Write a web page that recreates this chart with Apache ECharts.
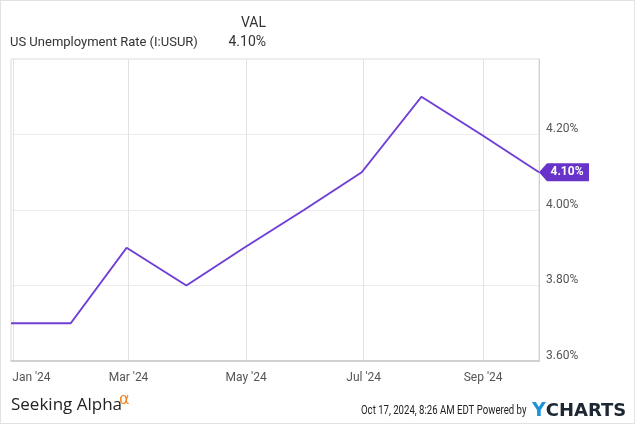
<!DOCTYPE html>
<html>
<head>
<meta charset="utf-8">
<script src="https://cdn.jsdelivr.net/npm/echarts@6/dist/echarts.min.js"></script>
<style>
html,body{margin:0;padding:0;background:#fff;}
#c{width:635px;height:424px;box-sizing:border-box;border:1px solid #e2e2e2;}
</style>
</head>
<body>
<div id="c"></div>
<script>
// Data
const dates = ['2023-12-31','2024-01-31','2024-02-29','2024-03-31','2024-04-30','2024-05-31','2024-06-30','2024-07-31','2024-08-31','2024-09-30'];
const rates = [3.7, 3.7, 3.9, 3.8, 3.9, 4.0, 4.1, 4.3, 4.2, 4.1];
const tickDates = ['2024-01-01','2024-03-01','2024-05-01','2024-07-01','2024-09-01'];
const tickLabels = ["Jan '24", "Mar '24", "May '24", "Jul '24", "Sep '24"];
const seriesName = 'US Unemployment Rate (I:USUR)';
const lastValue = '4.10%';

const toTs = s => { const p = s.split('-').map(Number); return Date.UTC(p[0], p[1]-1, p[2]); };
const tickTs = tickDates.map(toTs);
const labelMap = {};
tickTs.forEach((t, i) => { labelMap[t] = tickLabels[i]; });

const chart = echarts.init(document.getElementById('c'), null, {renderer: 'canvas'});
const font = 'Roboto, "Noto Sans", sans-serif';

chart.setOption({
  animation: false,
  grid: {left: 10, right: 95, top: 58, bottom: 62, show: true, borderColor: '#dcdcdc', borderWidth: 1},
  xAxis: {
    type: 'value',
    min: toTs(dates[0]),
    max: toTs(dates[dates.length - 1]),
    axisLine: {show: true, lineStyle: {color: '#c8c8c8', width: 1.5}},
    axisTick: {show: false, customValues: tickTs},
    splitLine: {show: true, lineStyle: {color: '#e2e2e2', width: 1}},
    axisLabel: {
      customValues: tickTs,
      color: '#555', fontSize: 12, fontFamily: font, margin: 11,
      formatter: function (v) {
        const lab = labelMap[v] || '';
        return v === tickTs[0] ? '{j|' + lab + '}' : lab;
      },
      rich: {j: {color: '#555', fontSize: 12, fontFamily: font, padding: [0, 0, 0, 37]}}
    }
  },
  yAxis: {
    type: 'value',
    position: 'right',
    min: 3.6, max: 4.4, interval: 0.2,
    axisLine: {show: true, lineStyle: {color: '#cfcfcf', width: 1}},
    axisTick: {show: false},
    splitLine: {show: true, lineStyle: {color: '#ececec', width: 1}},
    axisLabel: {
      showMaxLabel: false,
      color: '#555', fontSize: 12, fontFamily: font, margin: 7,
      verticalAlign: 'bottom', lineHeight: 11,
      formatter: v => v.toFixed(2) + '%'
    }
  },
  series: [{
    type: 'line',
    name: seriesName,
    data: dates.map((d, i) => [toTs(d), rates[i]]),
    showSymbol: false,
    lineStyle: {color: '#6f3fd6', width: 2},
    itemStyle: {color: '#6f3fd6'},
    markPoint: {
      silent: true,
      data: [{coord: [toTs(dates[dates.length - 1]), rates[rates.length - 1]], value: lastValue}],
      symbol: 'path://M0,9 L8,0 L50,0 L50,18 L8,18 Z',
      symbolSize: [50, 18],
      symbolKeepAspect: false,
      symbolOffset: [25, 0],
      itemStyle: {color: '#6733c9'},
      label: {show: true, color: '#fff', fontWeight: 'bold', fontSize: 12, fontFamily: font, offset: [3, 0],
        formatter: p => p.value}
    }
  }],
  graphic: [
    {type: 'text', left: 9, top: 35, style: {text: seriesName, fill: '#333', font: '13px ' + font}},
    {type: 'text', right: 635 - 267, top: 15, style: {text: 'VAL', fill: '#333', font: '14px ' + font, textAlign: 'right'}},
    {type: 'text', right: 635 - 267, top: 34, style: {text: lastValue, fill: '#333', font: '14px ' + font, textAlign: 'right'}},
    {type: 'text', left: 10, top: 396, style: {text: 'Seeking Alpha', fill: '#222', font: '17px "Open Sans", sans-serif'}},
    {type: 'text', left: 118, top: 391, style: {text: 'α', fill: '#f58220', font: '16px "DejaVu Sans", sans-serif'}},
    {type: 'text', x: 360, y: 404, scaleX: 0.8, style: {text: 'Oct 17, 2024, 8:26 AM EDT Powered by', fill: '#222', font: '12px Roboto, sans-serif'}},
    {type: 'text', left: 531, top: 401, style: {
      text: '{y|Y}{c|CHARTS}',
      rich: {
        y: {fill: '#1a94d8', font: 'bold 19px "DejaVu Sans", sans-serif'},
        c: {fill: '#1d2733', font: 'bold 18px "DejaVu Sans", sans-serif'}
      }
    }}
  ]
});
</script>
</body>
</html>
